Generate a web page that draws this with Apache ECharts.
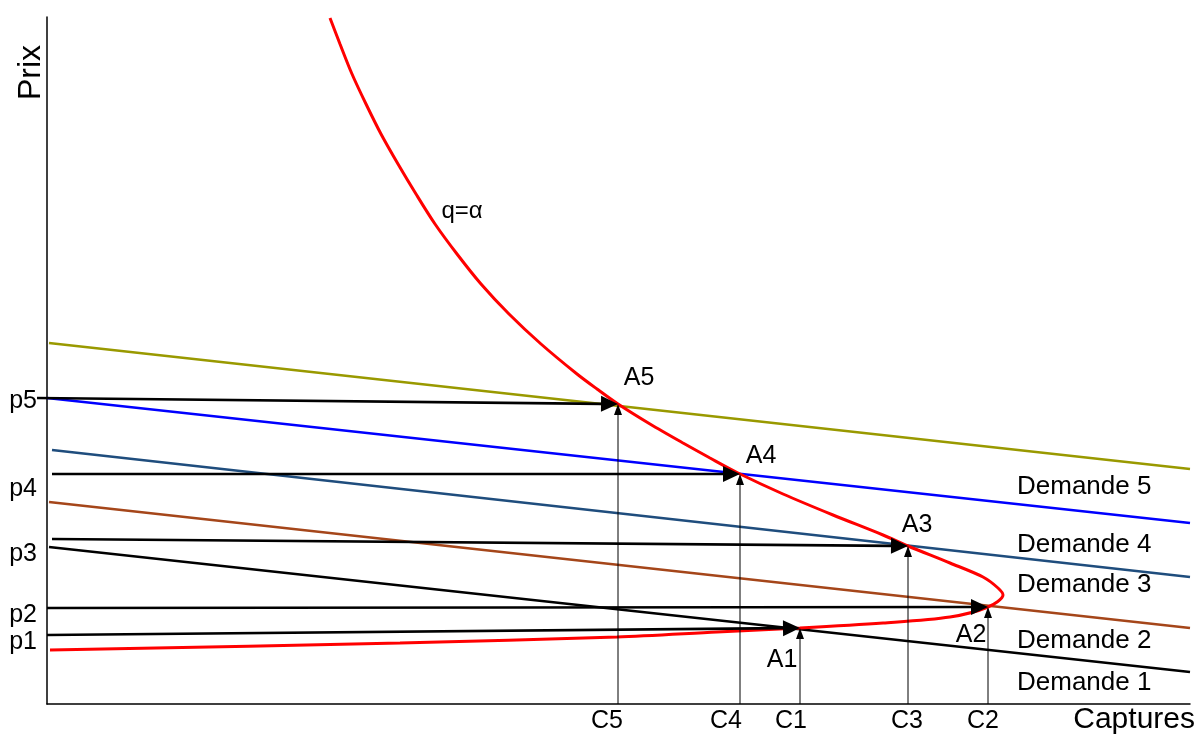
<!DOCTYPE html>
<html>
<head>
<meta charset="utf-8">
<script src="https://cdn.jsdelivr.net/npm/echarts@6/dist/echarts.min.js"></script>
<style>
html,body{margin:0;padding:0;background:#fff;}
#chart{width:1201px;height:736px;}
</style>
</head>
<body>
<div id="chart"></div>
<script>
// ---- Data (chart units) ----
const demandNames = ['Demande 1', 'Demande 2', 'Demande 3', 'Demande 4', 'Demande 5'];
const demandStart = [[2, 157], [2, 202], [5, 254], [0, 306], [2, 361]];
const demandEnd = [[1143, 32], [1143, 76], [1143, 127], [1143, 181], [1143, 235]];
const demandColors = ['#000000', '#a5461a', '#1f4d7d', '#0000ff', '#999900'];
const demandLabelPos = [[970, 21], [970, 63], [970, 119], [970, 159], [970, 217]];

// q = alpha curve
const curveQ = [[283, 686], [293, 660], [305, 630], [319, 600], [334, 570], [351, 540], [369, 510],
  [388, 480], [410, 450], [434, 420], [462, 390], [494, 360], [530, 330], [550, 315], [571, 300],
  [603, 280], [636, 261], [663, 246], [691, 231], [736, 210], [786, 189], [836, 169], [861, 158],
  [903, 141], [936, 127], [951, 116], [956, 109], [941, 97], [903, 87], [836, 81], [753, 76],
  [670, 72], [570, 67], [353, 61], [3, 54]];
const curveLabel = 'q=α';
const curveLabelPos = [415, 493];

// Equilibrium points A1..A5
const pointNames = ['A1', 'A2', 'A3', 'A4', 'A5'];
const pointXY = [[753, 76], [941, 97], [861, 158], [693, 230], [571, 300]];
const pointLabelPos = [[735, 44], [924, 69], [870, 179], [714, 248], [592, 326]];
// price arrows start (on the price axis)
const priceStart = [[0, 69], [0, 96], [5, 165], [5, 230], [-10, 306]];

// Axis tick labels
const priceNames = ['p1', 'p2', 'p3', 'p4', 'p5'];
const priceLabelY = [62, 89, 150, 215, 303];
const captureNames = ['C1', 'C2', 'C3', 'C4', 'C5'];
const captureLabelX = [744, 936, 860, 679, 560];

const FONT = 'Liberation Sans, Arial, sans-serif';

const chart = echarts.init(document.getElementById('chart'), null, {renderer: 'canvas'});

function arrowRenderer(lineWidth, headLen, headWidth) {
  return function (params, api) {
    const p0 = api.coord([api.value(0), api.value(1)]);
    const p1 = api.coord([api.value(2), api.value(3)]);
    const dx = p1[0] - p0[0], dy = p1[1] - p0[1];
    const len = Math.sqrt(dx * dx + dy * dy);
    const ux = dx / len, uy = dy / len;
    const bx = p1[0] - ux * headLen, by = p1[1] - uy * headLen;
    const nx = -uy * headWidth / 2, ny = ux * headWidth / 2;
    return {
      type: 'group',
      children: [
        {type: 'line', shape: {x1: p0[0], y1: p0[1], x2: bx + ux, y2: by + uy},
          style: {stroke: '#000', lineWidth: lineWidth}},
        {type: 'polygon', shape: {points: [[p1[0], p1[1]], [bx + nx, by + ny], [bx - nx, by - ny]]},
          style: {fill: '#000'}}
      ]
    };
  };
}

function labelSeries(names, positions, size, position) {
  return {
    type: 'scatter', symbolSize: 0, silent: true, clip: false, z: 6,
    itemStyle: {opacity: 1},
    data: names.map(function (n, i) { return {name: n, value: positions[i]}; }),
    label: {show: true, position: position, distance: 0, formatter: '{b}', color: '#000', opacity: 1,
      fontSize: size, fontFamily: FONT},
    emphasis: {disabled: true}
  };
}

const series = [];
demandNames.forEach(function (name, i) {
  series.push({
    type: 'line', name: name, data: [demandStart[i], demandEnd[i]],
    showSymbol: false, symbol: 'none', silent: true,
    lineStyle: {color: demandColors[i], width: 2.6}, z: 2
  });
});
series.push({
  type: 'line', name: 'q=α', data: curveQ, smooth: 0.3, showSymbol: false, symbol: 'none',
  lineStyle: {color: '#ff0000', width: 3}, z: 3
});
// horizontal price arrows
series.push({
  type: 'custom', renderItem: arrowRenderer(2.6, 17, 16), clip: false, z: 5,
  data: priceStart.map(function (s, i) { return [s[0], s[1], pointXY[i][0], pointXY[i][1]]; })
});
// vertical capture arrows
series.push({
  type: 'custom', renderItem: arrowRenderer(1, 11, 8), clip: false, z: 4,
  data: pointXY.map(function (p) { return [p[0], 0, p[0], p[1]]; })
});
// labels
series.push(labelSeries(pointNames, pointLabelPos, 25, 'inside'));
series.push(labelSeries(demandNames, demandLabelPos, 26, 'right'));
series.push(labelSeries([curveLabel], [curveLabelPos], 24, 'inside'));

const option = {
  animation: false,
  backgroundColor: '#ffffff',
  grid: {left: 47, right: 11, top: 17, bottom: 32, containLabel: false},
  xAxis: {
    type: 'value', min: 0, max: 1143,
    splitLine: {show: false}, axisTick: {show: false},
    axisLine: {lineStyle: {color: '#000', width: 1.5}},
    axisLabel: {
      customValues: captureLabelX,
      formatter: function (v) { const k = captureLabelX.indexOf(v); return k >= 0 ? captureNames[k] : ''; },
      color: '#000', fontSize: 25, fontFamily: FONT, margin: 5
    },
    name: 'Captures', nameLocation: 'end', nameGap: 5,
    nameTextStyle: {align: 'right', verticalAlign: 'top', fontSize: 30, color: '#000', fontFamily: FONT, padding: [1, 0, 0, 0]}
  },
  yAxis: {
    type: 'value', min: 0, max: 687,
    splitLine: {show: false}, axisTick: {show: false},
    axisLine: {lineStyle: {color: '#000', width: 1.5}},
    axisLabel: {
      customValues: priceLabelY,
      formatter: function (v) { const k = priceLabelY.indexOf(v); return k >= 0 ? priceNames[k] : ''; },
      color: '#000', fontSize: 25, fontFamily: FONT, margin: 10
    },
    name: 'Prix', nameLocation: 'end', nameGap: -28, nameRotate: 90,
    nameTextStyle: {align: 'right', verticalAlign: 'bottom', fontSize: 32, color: '#000', fontFamily: FONT}
  },
  series: series
};
chart.setOption(option);
</script>
</body>
</html>
